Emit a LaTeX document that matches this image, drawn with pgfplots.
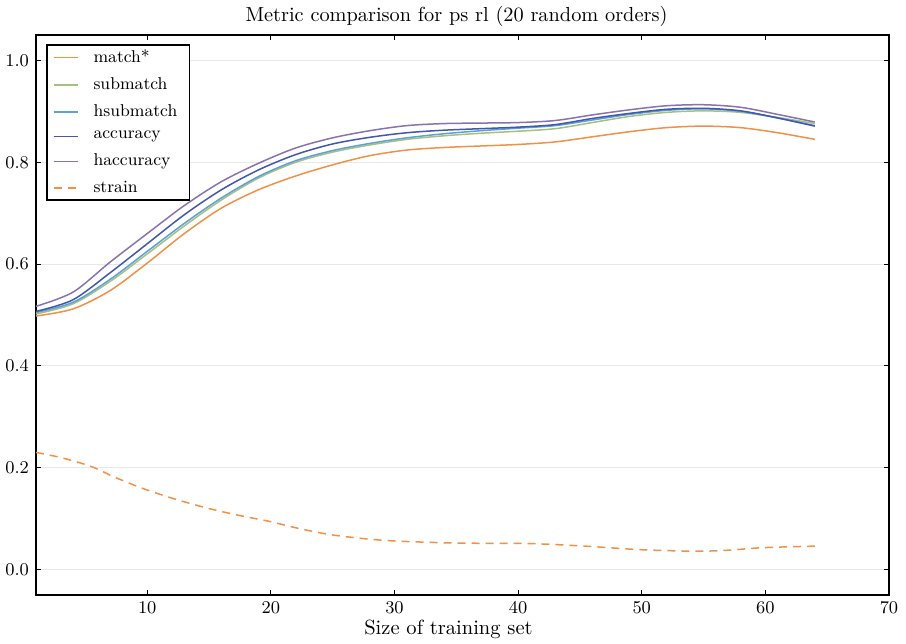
\documentclass[border=0pt]{standalone}
\usepackage{pgfplots}
\pgfplotsset{compat=1.18}

\definecolor{cmatch}{RGB}{240,145,72}
\definecolor{csub}{RGB}{165,192,128}
\definecolor{chsub}{RGB}{95,160,218}
\definecolor{cacc}{RGB}{65,88,172}
\definecolor{chacc}{RGB}{135,115,175}
\definecolor{cgrid}{RGB}{232,232,232}

\begin{document}
\begin{tikzpicture}
\useasboundingbox (-18bp,-24.5bp) rectangle (435bp,297.5bp);
\begin{axis}[
    scale only axis,
    width=426.5bp, height=280bp,
    xmin=1, xmax=70, ymin=-0.05, ymax=1.05,
    xtick={10,20,...,70},
    ytick={0,0.2,...,1.0},
    yticklabel style={/pgf/number format/.cd,fixed,fixed zerofill,precision=1},
    tick align=inside,
    major tick length=2.5bp,
    minor tick num=0,
    axis line style={line width=0.8bp},
    every tick/.style={black, line width=0.5bp},
    ymajorgrids,
    major grid style={cgrid, line width=0.5bp},
    tick label style={font=\fontsize{8.6}{10}\selectfont},
    label style={font=\fontsize{10.3}{12}\selectfont},
    xlabel={Size of training set},
    xlabel style={yshift=3.5bp, xshift=-7bp},
    title={Metric comparison for ps rl (20 random orders)},
    title style={font=\fontsize{10.2}{12}\selectfont, yshift=-5.5bp, xshift=-3bp},
    legend cell align=left,
    legend style={at={(0,1)}, anchor=north west, xshift=5bp, yshift=-4.5bp,
        draw=black, line width=0.8bp, font=\fontsize{8.6}{10}\selectfont,
        row sep=2bp, inner xsep=3bp, inner ysep=0.5bp,
        nodes={inner xsep=0bp, text width=45bp, align=left}},
    legend image code/.code={\draw[#1, line width=0.75bp] (0bp,0bp) -- (12bp,0bp);
        \path[draw=none] (0bp,0bp) -- (20bp,0bp);},
    every axis plot/.append style={line width=0.75bp, smooth},
]
\addplot[cmatch] coordinates {
(1,0.498) (4,0.512) (7,0.548) (10,0.602) (13,0.660) (16,0.710) (19,0.746) (22,0.773)
(25,0.795) (28,0.813) (31,0.824) (34,0.829) (37,0.832) (40,0.835) (43,0.840) (46,0.850)
(49,0.860) (52,0.868) (55,0.871) (58,0.868) (61,0.858) (64,0.845)};
\addlegendentry{match*}
\addplot[csub] coordinates {
(1,0.502) (4,0.522) (7,0.566) (10,0.620) (13,0.675) (16,0.726) (19,0.769) (22,0.800)
(25,0.820) (28,0.834) (31,0.845) (34,0.852) (37,0.857) (40,0.861) (43,0.866) (46,0.878)
(49,0.890) (52,0.898) (55,0.901) (58,0.898) (61,0.888) (64,0.876)};
\addlegendentry{submatch}
\addplot[chsub] coordinates {
(1,0.505) (4,0.525) (7,0.570) (10,0.625) (13,0.680) (16,0.730) (19,0.772) (22,0.803)
(25,0.823) (28,0.837) (31,0.848) (34,0.856) (37,0.862) (40,0.867) (43,0.872) (46,0.883)
(49,0.894) (52,0.902) (55,0.905) (58,0.900) (61,0.887) (64,0.872)};
\addlegendentry{hsubmatch}
\addplot[cacc] coordinates {
(1,0.507) (4,0.530) (7,0.583) (10,0.640) (13,0.697) (16,0.746) (19,0.785) (22,0.815)
(25,0.836) (28,0.849) (31,0.858) (34,0.863) (37,0.866) (40,0.869) (43,0.874) (46,0.886)
(49,0.896) (52,0.904) (55,0.906) (58,0.901) (61,0.887) (64,0.871)};
\addlegendentry{accuracy}
\addplot[chacc] coordinates {
(1,0.517) (4,0.545) (7,0.604) (10,0.660) (13,0.715) (16,0.762) (19,0.798) (22,0.828)
(25,0.848) (28,0.862) (31,0.872) (34,0.876) (37,0.877) (40,0.878) (43,0.882) (46,0.893)
(49,0.903) (52,0.911) (55,0.913) (58,0.908) (61,0.894) (64,0.879)};
\addlegendentry{haccuracy}
\addplot[cmatch, dash pattern=on 4bp off 3bp] coordinates {
(1,0.230) (3,0.220) (5.4,0.203) (7.5,0.180) (9.9,0.157) (12.3,0.138) (14.8,0.121)
(17.3,0.107) (19.8,0.095) (22.2,0.081) (24.7,0.069) (27.4,0.061) (30.1,0.056)
(35.1,0.052) (40.9,0.051) (45.4,0.046) (49.9,0.039) (54.4,0.036) (57,0.038)
(59.8,0.043) (64,0.046)};
\addlegendentry{strain}
\end{axis}
\end{tikzpicture}
\end{document}
